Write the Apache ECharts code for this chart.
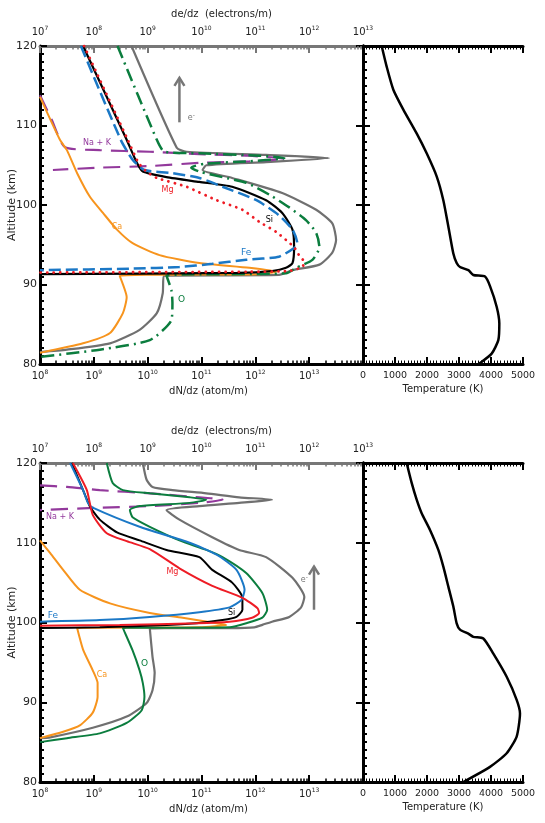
<!DOCTYPE html>
<html><head><meta charset="utf-8">
<script src="https://cdn.jsdelivr.net/npm/echarts@6/dist/echarts.min.js"></script>
<style>html,body{margin:0;padding:0;background:#fff}#c{width:545px;height:823px}</style>
</head><body><div id="c"></div>
<script>
// ---------- DATA (x = log10 of dN/dz or de/dz, y = altitude km) ----------
// Top panel
const topSi = [[8.80,120],[9.61,108.2],[9.80,105.3],[9.91,104.2],[10.35,103.5],[10.96,102.9],[11.57,102.3],[12.20,100.6],[12.50,99.0],[12.69,96.9],[12.72,94.7],[12.69,92.7],[12.57,92.1],[12.31,91.7],[11.70,91.45],[8.0,91.3]];
const topMg = [[8.82,120],[9.63,108.2],[9.83,105.3],[9.98,104.2],[10.17,103.4],[10.72,102.3],[11.28,100.6],[11.76,99.4],[12.07,97.9],[12.39,96.6],[12.57,95.6],[12.72,94.7],[12.81,93.7],[12.91,92.8],[12.87,92.2],[12.63,91.7],[11.9,91.6],[8.0,91.5]];
const topFe = [[8.76,120],[9.50,108.2],[9.72,105.7],[9.94,104.4],[10.46,104.0],[10.96,103.4],[11.39,102.3],[12.02,100.6],[12.44,98.7],[12.69,96.9],[12.78,95.2],[12.72,94.6],[12.44,93.5],[11.83,93.1],[11.20,92.6],[10.59,92.2],[9.72,92.0],[8.0,91.8]];
const topO = [[9.44,120],[10.17,108.2],[10.31,106.7],[10.96,106.5],[12.07,106.2],[12.54,105.9],[11.89,105.5],[11.06,105.2],[10.81,104.7],[10.96,104.2],[11.39,103.5],[11.83,102.8],[12.26,101.3],[12.63,99.7],[12.94,98.1],[13.13,96.5],[13.19,94.7],[13.06,93.1],[12.76,92.1],[12.57,91.4],[10.35,91.1],[10.44,89.3],[10.46,87.7],[10.44,85.5],[10.04,83.0],[9.11,81.8],[8.0,80.9]];
const topCa = [[8.0,113.6],[8.37,108.2],[8.50,106.9],[8.69,104.0],[8.93,101.0],[9.17,99.0],[9.43,96.9],[9.72,95.2],[10.22,93.7],[10.96,92.7],[11.89,92.1],[12.39,91.6],[12.07,91.3],[9.48,91.1],[9.61,88.4],[9.54,86.4],[9.30,83.9],[8.80,82.6],[8.0,81.4]];
const topNaK = [[8.0,113.8],[8.22,110.7],[8.46,107.3],[9.11,106.9],[10.04,106.7],[10.96,106.4],[11.89,106.2],[12.54,105.8],[11.89,105.5],[10.96,105.3],[10.04,104.9],[9.11,104.7],[8.24,104.4]];
const topE = [[8.70,120],[9.54,107.2],[9.72,106.7],[11.20,106.3],[12.37,105.9],[11.20,105.4],[10.09,105.0],[10.02,104.4],[10.57,103.4],[11.50,101.5],[12.13,99.4],[12.43,97.7],[12.50,95.6],[12.43,94.0],[12.19,92.5],[11.69,91.8],[11.44,91.2],[9.30,91.1],[9.28,88.9],[9.17,86.4],[8.85,84.3],[8.30,82.6],[7.50,81.8],[7.0,81.5]];
const topT = [[584,120],[740,117.4],[948,114.5],[1260,112.0],[1677,109.0],[1990,106.5],[2302,103.6],[2510,100.6],[2667,97.3],[2823,93.9],[2927,92.7],[3031,92.2],[3292,91.8],[3448,91.2],[3813,91.0],[3969,89.8],[4177,87.2],[4260,85.1],[4229,83.0],[4021,81.3],[3620,80.0]];
// Bottom panel
const botSi = [[8.59,120],[8.80,116.6],[8.93,114.5],[9.11,112.9],[9.43,111.3],[9.85,110.3],[10.35,109.1],[10.96,108.2],[11.20,106.6],[11.57,105.0],[11.76,103.1],[11.76,101.6],[11.65,100.7],[11.39,100.3],[10.91,99.9],[10.35,99.7],[9.11,99.4],[8.0,99.3]];
const botMg = [[8.61,120],[8.87,116.6],[8.98,113.5],[9.24,111.2],[9.61,110.2],[10.04,109.2],[10.59,106.8],[11.20,104.6],[11.76,103.1],[12.04,101.8],[12.07,101.2],[11.94,100.6],[11.52,100.1],[10.91,99.9],[9.48,99.7],[8.0,99.6]];
const botFe = [[8.56,120],[8.80,116.6],[8.89,115.0],[8.98,114.4],[9.85,112.0],[10.78,110.0],[11.28,108.5],[11.65,106.6],[11.80,104.1],[11.74,102.8],[11.52,101.9],[10.96,101.3],[10.04,100.7],[9.11,100.3],[8.0,100.1]];
const botO = [[9.24,120],[9.35,117.5],[9.54,116.6],[10.04,116.2],[10.78,115.7],[11.09,115.4],[10.78,115.0],[9.85,114.6],[9.67,114.1],[9.72,113.2],[10.04,112.0],[10.59,110.3],[11.09,109.1],[11.39,108.2],[11.83,106.2],[12.13,103.7],[12.22,101.6],[12.13,100.6],[11.83,99.9],[11.52,99.4],[9.54,99.3],[9.72,96.5],[9.85,94.0],[9.91,92.4],[9.94,90.7],[9.89,89.0],[9.61,87.4],[9.11,86.1],[8.50,85.5],[8.0,85.0]];
const botCa = [[8.0,110.3],[8.19,108.7],[8.43,106.6],[8.74,104.1],[9.30,102.4],[10.04,101.2],[10.65,100.6],[11.28,99.9],[11.46,99.7],[10.96,99.4],[8.69,99.3],[8.80,96.6],[8.98,94.0],[9.07,92.4],[9.07,90.7],[8.98,88.7],[8.74,87.1],[8.43,86.3],[8.0,85.5]];
const botNaK = [[8.0,117.2],[8.50,117.0],[9.11,116.6],[10.04,116.2],[10.96,115.7],[11.39,115.4],[10.96,115.0],[10.04,114.6],[9.11,114.4],[8.0,114.1]];
const botE = [[8.91,120],[8.98,117.9],[9.09,117.0],[9.46,116.6],[10.09,116.2],[10.70,115.7],[11.31,115.4],[10.70,115.0],[9.96,114.6],[9.35,114.1],[9.59,112.9],[10.20,110.7],[10.70,109.1],[11.20,108.2],[11.69,105.6],[11.91,103.2],[11.85,101.9],[11.63,100.7],[11.31,100.1],[11.13,99.7],[10.98,99.4],[10.52,99.3],[9.04,99.25],[9.09,95.7],[9.13,93.7],[9.09,91.5],[8.98,89.9],[8.61,88.2],[7.98,86.8],[7.19,85.6],[7.0,85.5]];
const botT = [[1365,120],[1521,117.5],[1677,115.4],[1833,113.7],[2094,111.6],[2354,109.1],[2510,107.0],[2667,104.5],[2823,102.0],[2927,99.9],[3031,99.1],[3292,98.6],[3448,98.2],[3760,98.0],[4073,96.1],[4490,93.2],[4802,90.3],[4906,88.6],[4802,85.7],[4490,83.6],[3969,81.9],[3135,80.0]];
// Axis ranges / ticks
const altRange = [80, 120];
const atomRange = [8, 14];
const elecRange = [7, 13];
const tempRange = [0, 5000];

// ---------- STYLE ----------
const FONT = 'DejaVu Sans';
const C = {si:'#000000', mg:'#ee1c25', fe:'#1b78c6', o:'#0b7d3e', ca:'#f7941d', nak:'#93399c', e:'#707070'};
const toVal = arr => arr.map(p => [Math.pow(10, p[0]), p[1]]);
const minors = (a, b) => { const r = []; for (let e = a; e < b; e++) for (let k = 2; k <= 9; k++) r.push(e + Math.log10(k)); return r; };
const supFmt = hideMax => v => { const e = Math.round(Math.log10(v)); if (hideMax && e === hideMax) return ''; return '{b|10}{s|' + e + '}'; };
const rich = { b:{fontSize:10, fontFamily:FONT, color:'#222', lineHeight:14}, s:{fontSize:6, fontFamily:FONT, color:'#222', verticalAlign:'top', lineHeight:8, padding:[0,0,6,0]} };

const grids = [
  {left:40, top:46, width:323, height:318, outerBoundsMode:'none', containLabel:false},
  {left:363, top:46, width:160, height:318, outerBoundsMode:'none', containLabel:false},
  {left:40, top:463, width:323, height:319, outerBoundsMode:'none', containLabel:false},
  {left:363, top:463, width:160, height:319, outerBoundsMode:'none', containLabel:false}
];

function leftX(g) {
  return [
    {type:'log', gridIndex:g, position:'bottom', min:Math.pow(10,atomRange[0]), max:Math.pow(10,atomRange[1]), logBase:10,
     name:'dN/dz (atom/m)', nameLocation:'middle', nameGap:22, nameTextStyle:{fontFamily:FONT, fontSize:10, color:'#222', padding:[0,0,0,14]},
     axisLine:{lineStyle:{color:'#000', width:3}}, axisTick:{inside:true, length:7, lineStyle:{width:2, color:'#000'}},
     axisLabel:{formatter:supFmt(14), rich:rich, margin:5}, splitLine:{show:false}},
    {type:'log', gridIndex:g, position:'top', min:Math.pow(10,elecRange[0]), max:Math.pow(10,elecRange[1]), logBase:10,
     name:'de/dz  (electrons/m)', nameLocation:'middle', nameGap:27, nameTextStyle:{fontFamily:FONT, fontSize:10, color:'#222', padding:[0,0,0,40]},
     axisLine:{lineStyle:{color:'#777', width:3}}, axisTick:{inside:true, length:7, lineStyle:{width:2, color:'#777'}},
     axisLabel:{formatter:supFmt(null), rich:rich, margin:7}, splitLine:{show:false}},
    {type:'value', gridIndex:g, position:'bottom', min:atomRange[0], max:atomRange[1],
     axisLine:{show:false}, axisLabel:{show:false}, splitLine:{show:false},
     axisTick:{inside:true, length:3.5, customValues:minors(atomRange[0], atomRange[1]), lineStyle:{width:1.5, color:'#000'}}},
    {type:'value', gridIndex:g, position:'top', min:elecRange[0], max:elecRange[1],
     axisLine:{show:false}, axisLabel:{show:false}, splitLine:{show:false},
     axisTick:{inside:true, length:3.5, customValues:minors(elecRange[0], elecRange[1]), lineStyle:{width:1.5, color:'#777'}}}
  ];
}
function rightX(g) {
  return [
    {type:'value', gridIndex:g, position:'bottom', min:tempRange[0], max:tempRange[1], interval:1000,
     name:'Temperature (K)', nameLocation:'middle', nameGap:20, nameTextStyle:{fontFamily:FONT, fontSize:10, color:'#222'},
     axisLine:{lineStyle:{color:'#000', width:3}}, axisTick:{inside:true, length:7, lineStyle:{width:2, color:'#000'}},
     minorTick:{show:true, splitNumber:10, length:3.5, lineStyle:{width:1, color:'#000'}},
     axisLabel:{fontFamily:FONT, fontSize:9.5, color:'#222', margin:7, formatter:v => String(v)}, splitLine:{show:false}, minorSplitLine:{show:false}},
    {type:'value', gridIndex:g, position:'top', min:tempRange[0], max:tempRange[1], interval:1000,
     axisLine:{lineStyle:{color:'#000', width:3}}, axisTick:{inside:true, length:7, lineStyle:{width:2, color:'#000'}},
     minorTick:{show:true, splitNumber:10, length:3.5, lineStyle:{width:1, color:'#000'}},
     axisLabel:{show:false}, splitLine:{show:false}, minorSplitLine:{show:false}}
  ];
}
function yAxes(g, labels) {
  return [
    {type:'value', gridIndex:g, position:'left', min:altRange[0], max:altRange[1], interval:10,
     name: labels ? 'Altitude (km)' : '', nameLocation:'middle', nameGap:22, nameMoveOverlap:false,
     nameTextStyle:{fontFamily:FONT, fontSize:11, color:'#222'},
     axisLine:{lineStyle:{color:'#000', width:3}}, axisTick:{inside:true, length:7, lineStyle:{width:2, color:'#000'}},
     minorTick:{show:true, splitNumber:10, length:4, lineStyle:{width:2, color:'#000'}},
     axisLabel:{show:labels, fontFamily:FONT, fontSize:11, color:'#222', margin:3}, splitLine:{show:false}, minorSplitLine:{show:false}},
    {type:'value', gridIndex:g, position:'right', min:altRange[0], max:altRange[1], interval:10,
     axisLine:{lineStyle:{color:'#000', width:3}}, axisTick:{inside:true, length:7, lineStyle:{width:2, color:'#000'}},
     axisLabel:{show:false}, splitLine:{show:false}}
  ];
}

const xAxis = [].concat(leftX(0), rightX(1), leftX(2), rightX(3));
// indices: 0 atoms,1 elec (grid0); 4 temp (grid1); 6 atoms,7 elec (grid2); 10 temp (grid3)
const yAxis = [].concat(yAxes(0, true), yAxes(1, false), yAxes(2, true), yAxes(3, false));

function ln(data, xi, yi, color, type, width, cap) {
  return {type:'line', data:data, xAxisIndex:xi, yAxisIndex:yi, showSymbol:false, symbol:'none',
    smooth:0.2, animation:false, clip:true,
    lineStyle:{color:color, width:width || 2, type:type || 'solid', cap: cap || 'butt'}};
}
const DOT = [0.1, 6.5], DASH = [12, 5], LDASH = [17, 9], DDOT = [13, 5, 2, 5];
const series = [
  ln(toVal(topE), 1, 0, C.e, 'solid', 2.2),
  ln(toVal(topNaK), 0, 0, C.nak, LDASH, 2.2),
  ln(toVal(topCa), 0, 0, C.ca, 'solid', 2),
  ln(toVal(topO), 0, 0, C.o, DDOT, 2.5),
  ln(toVal(topSi), 0, 0, C.si, 'solid', 2.2),
  ln(toVal(topFe), 0, 0, C.fe, DASH, 2.5),
  ln(toVal(topMg), 0, 0, C.mg, DOT, 2.8, 'round'),
  ln(topT, 4, 2, '#000', 'solid', 2.5),
  ln(toVal(botE), 7, 4, C.e, 'solid', 2.2),
  ln(toVal(botNaK), 6, 4, C.nak, LDASH, 2.2),
  ln(toVal(botCa), 6, 4, C.ca, 'solid', 2),
  ln(toVal(botO), 6, 4, C.o, 'solid', 2),
  ln(toVal(botSi), 6, 4, C.si, 'solid', 2),
  ln(toVal(botFe), 6, 4, C.fe, 'solid', 2),
  ln(toVal(botMg), 6, 4, C.mg, 'solid', 2),
  ln(botT, 10, 6, '#000', 'solid', 2.5)
];

const chart = echarts.init(document.getElementById('c'), null, {renderer:'canvas'});
chart.setOption({backgroundColor:'#fff', animation:false, grid:grids, xAxis:xAxis, yAxis:yAxis, series:series});

// ---------- ANNOTATIONS (data coordinates: log10 atoms, altitude) ----------
const notes = [
  // [text, log10 x, alt, color, xAxisIndex, yAxisIndex, size]
  ['Na + K', 9.06, 107.8, C.nak, 0, 0, 8],
  ['Mg', 10.37, 101.9, C.mg, 0, 0, 8],
  ['Si', 12.26, 98.1, C.si, 0, 0, 8],
  ['Ca', 9.43, 97.2, C.ca, 0, 0, 8],
  ['Fe', 11.83, 94.0, C.fe, 0, 0, 9],
  ['O', 10.63, 88.1, C.o, 0, 0, 9],
  ['Na + K', 8.37, 113.2, C.nak, 6, 4, 8],
  ['Mg', 10.46, 106.3, C.mg, 6, 4, 8],
  ['Fe', 8.24, 100.9, C.fe, 6, 4, 9],
  ['Si', 11.56, 101.2, C.si, 6, 4, 8],
  ['Ca', 9.15, 93.4, C.ca, 6, 4, 8],
  ['O', 9.94, 94.9, C.o, 6, 4, 9]
];
const arrows = [
  // [log10 x (atoms axis), alt from, alt to, e- label x, e- label alt, xAxisIndex, yAxisIndex]
  [10.59, 110.4, 116.0, 10.81, 110.9, 0, 0],
  [13.09, 101.6, 107.0, 12.91, 105.3, 6, 4]
];
const px = (xi, yi, x, y) => chart.convertToPixel({xAxisIndex:xi, yAxisIndex:yi}, [Math.pow(10, x), y]);
const graphics = [];
notes.forEach(n => {
  const p = px(n[4], n[5], n[1], n[2]);
  graphics.push({type:'text', x:p[0], y:p[1], style:{text:n[0], fill:n[3], font:n[6] + 'px ' + FONT, align:'center', verticalAlign:'middle'}});
});
arrows.forEach(a => {
  const p1 = px(a[5], a[6], a[0], a[1]), p2 = px(a[5], a[6], a[0], a[2]);
  graphics.push({type:'line', shape:{x1:p1[0], y1:p1[1], x2:p2[0], y2:p2[1]}, style:{stroke:'#777', lineWidth:2.5}});
  graphics.push({type:'polyline', shape:{points:[[p2[0]-5, p2[1]+8], [p2[0], p2[1]], [p2[0]+5, p2[1]+8]]}, style:{stroke:'#777', lineWidth:2.5, fill:null}});
  const q = px(a[5], a[6], a[3], a[4]);
  graphics.push({type:'text', x:q[0], y:q[1], style:{text:'{a|e}{b|-}', rich:{a:{fontSize:8, fontFamily:FONT, fill:'#777'}, b:{fontSize:6, fontFamily:FONT, fill:'#777', verticalAlign:'top', padding:[0,0,5,0]}}, align:'center', verticalAlign:'middle'}});
});
chart.setOption({graphic:graphics});
</script>
</body></html>
